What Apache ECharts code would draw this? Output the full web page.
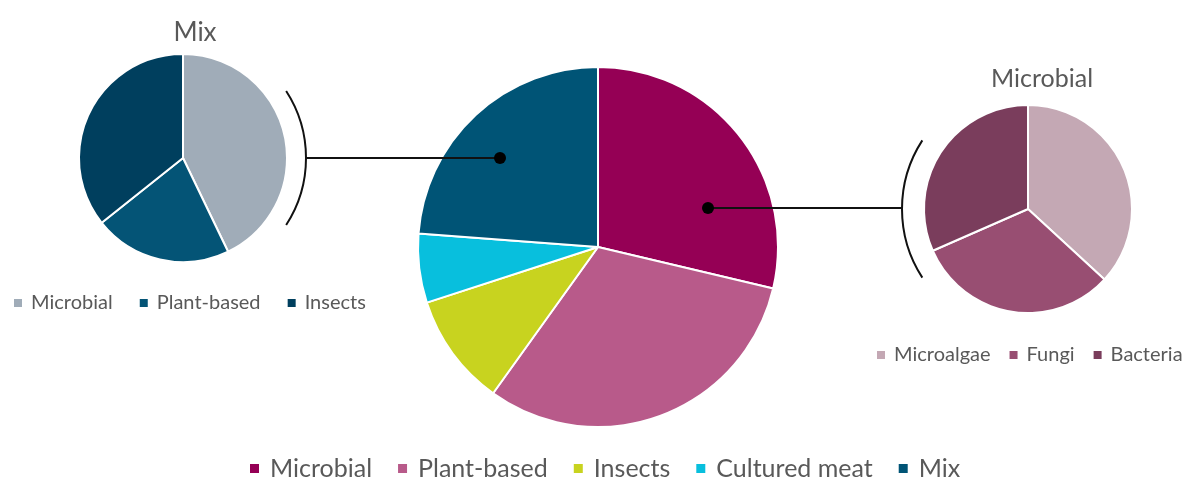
<!DOCTYPE html>
<html>
<head>
<meta charset="utf-8">
<script src="https://cdn.jsdelivr.net/npm/echarts@6/dist/echarts.min.js"></script>
<style>
html, body { margin: 0; padding: 0; background: #fff; }
#main { width: 1190px; height: 477px; }
</style>
</head>
<body>
<div id="main"></div>
<script>
// data
var mainNames = ['Microbial', 'Plant-based', 'Insects', 'Cultured meat', 'Mix'];
var mainValues = [28.7, 31.2, 10.1, 6.2, 23.8];
var mixNames = ['Microbial ', 'Plant-based ', 'Insects '];
var mixValues = [6, 3, 5];
var microNames = ['Microalgae', 'Fungi', 'Bacteria'];
var microValues = [7, 6, 6];

var mainColors = ['#950055', '#b85a8a', '#c8d31f', '#08bfdd', '#005476'];
var mixColors = ['#a0acb8', '#045476', '#003f5e'];
var microColors = ['#c4a8b4', '#984e72', '#7a3d5c'];

var chart = echarts.init(document.getElementById('main'));
var font = 'Lato, "Open Sans", sans-serif';
var grey = '#595959';

function toData(names, values, colors) {
    return names.map(function (n, i) {
        return { name: n, value: values[i], itemStyle: { color: colors[i] } };
    });
}

function pie(center, r, data) {
    return {
        type: 'pie',
        center: center,
        radius: r,
        startAngle: 90,
        clockwise: true,
        label: { show: false },
        labelLine: { show: false },
        emphasis: { disabled: true },
        itemStyle: { borderColor: '#fff', borderWidth: 2 },
        data: data
    };
}

function legend(names, left, top, size, gap, box, pad) {
    return {
        data: names,
        left: left,
        top: top,
        icon: 'rect',
        itemWidth: box,
        itemHeight: box,
        itemGap: gap,
        selectedMode: false,
        textStyle: { color: grey, fontSize: size, fontFamily: font, padding: [0, 0, 0, pad] }
    };
}

// bracket arcs concentric with the small pies
var deg = Math.PI / 180;
var ink = { stroke: '#111', lineWidth: 2, fill: null };

chart.setOption({
    animation: false,
    title: [
        { text: 'Mix', left: 190, top: 15, textAlign: 'center',
          textStyle: { color: grey, fontSize: 26, fontWeight: 'normal', fontFamily: font } },
        { text: 'Microbial', left: 1037, top: 61, textAlign: 'center',
          textStyle: { color: grey, fontSize: 25, fontWeight: 'normal', fontFamily: font } }
    ],
    legend: [
        legend(mainNames, 243, 451, 25, 24, 11, 5),
        legend(mixNames, 7, 288, 20, 20, 10, 3),
        legend(microNames, 870, 340, 20, 17, 10, 3)
    ],
    series: [
        pie([598, 247], 180, toData(mainNames, mainValues, mainColors)),
        pie([183, 158], 104, toData(mixNames, mixValues, mixColors)),
        pie([1028, 209], 104, toData(microNames, microValues, microColors))
    ],
    graphic: [
        { type: 'arc', z: 100, shape: { cx: 183, cy: 158, r: 123, startAngle: -33 * deg, endAngle: 33 * deg }, style: ink },
        { type: 'line', z: 100, shape: { x1: 306, y1: 158, x2: 500, y2: 158 }, style: ink },
        { type: 'circle', z: 100, shape: { cx: 500, cy: 158, r: 6 }, style: { fill: '#000' } },
        { type: 'arc', z: 100, shape: { cx: 1028, cy: 209, r: 126, startAngle: 147 * deg, endAngle: 213 * deg }, style: ink },
        { type: 'line', z: 100, shape: { x1: 708, y1: 208, x2: 902, y2: 208 }, style: ink },
        { type: 'circle', z: 100, shape: { cx: 708, cy: 208, r: 6 }, style: { fill: '#000' } }
    ]
});
</script>
</body>
</html>
